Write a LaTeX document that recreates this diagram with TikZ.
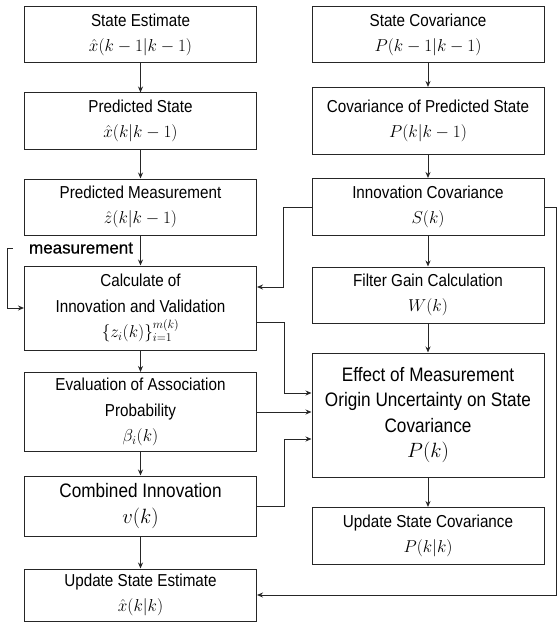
\documentclass[tikz,border=0pt]{standalone}
\usepackage{fontspec}
\setmainfont{Liberation Sans}[FakeStretch=0.88]
\newfontfamily\measfont{Liberation Sans}[FakeBold=0.5]
\usetikzlibrary{positioning,arrows.meta}

\begin{document}
\begin{tikzpicture}[x=1bp, y=1bp, node distance=86bp, line width=1bp, >={Stealth[length=6bp,width=5bp]},
    box/.style={rectangle, draw=black!85, minimum width=232bp, minimum height=56bp, align=center, font=\fontsize{17.3bp}{25.5bp}\selectfont},
    bigbox/.style={box, font=\fontsize{19.5bp}{25.5bp}\selectfont},
    wire/.style={->, draw=black!85}]
            \useasboundingbox (0,0) rectangle (560,-625);
            % --- Left Column ---
            \node[box] (StEst) at (140.5,-35) {State Estimate\\ $\hat{x}(k-1|k-1)$};
            \node[box] (PredSt) [below of = StEst] {Predicted State\\ $\hat{x}(k|k-1)$};
            \node[box] (PredMeas) [below of = PredSt] {Predicted Measurement\\ $\hat{z}(k|k-1)$};
            \node[box, minimum height=84bp] (Calc) [below of = PredMeas, yshift=-15bp] {Calculate of\\ Innovation and Validation\\ $\{z_i(k)\}_{i=1}^{m(k)}$};
            \node[box, minimum height=79bp] (Eval) [below of = Calc, yshift=-18bp] {Evaluation of Association\\ Probability\\ $\beta_i(k)$};
            \node[bigbox, minimum height=60bp] (Comb) [below of = Eval, yshift=-8bp] {Combined Innovation\\ $v(k)$};
            \node[box, minimum height=52bp] (UpdEst) [below of = Comb, yshift=-3bp] {Update State Estimate\\ $\hat{x}(k|k)$};

            % --- Right Column ---
            \node[box] (StCov) [right of = StEst, xshift=201.5bp] {State Covariance\\ $P(k-1|k-1)$};
            \node[box, minimum height=67bp] (PredCov) [below of = StCov] {Covariance of Predicted State\\ $P(k|k-1)$};
            \node[box, minimum height=57bp] (InnCov) [below of = PredCov] {Innovation Covariance\\ $S(k)$};
            \node[box] (Gain) [below of = InnCov, yshift=-2bp] {Filter Gain Calculation\\ $W(k)$};
            \node[bigbox, minimum height=124bp] (Effect) [below of = Gain, yshift=-34bp] {Effect of Measurement\\ Origin Uncertainty on State\\ Covariance\\ $P(k)$};
            \node[box, minimum height=57bp] (UpdCov) [below of = Effect, yshift=-35bp] {Update State Covariance\\ $P(k|k)$};

            % --- measurement input ---
            \node[font=\measfont\fontsize{17bp}{20bp}\selectfont, anchor=base east, inner sep=0pt] (measLbl) at ([xshift=-7bp, yshift=12bp]Calc.north) {measurement};
            \coordinate (measIn) at ([xshift=-11bp, yshift=17bp]Calc.north west);

            % --- Direct Straight Connections ---
            \draw[wire] (StEst) -- (PredSt);
            \draw[wire] (PredSt) -- (PredMeas);
            \draw[wire] (PredMeas) -- (Calc);
            \draw[wire] (Calc) -- (Eval);
            \draw[wire] (Eval) -- (Comb);
            \draw[wire] (Comb) -- (UpdEst);

            \draw[wire] (StCov) -- (PredCov);
            \draw[wire] (PredCov) -- (InnCov);
            \draw[wire] (InnCov) -- (Gain);
            \draw[wire] (Gain) -- (Effect);
            \draw[wire] (Effect) -- (UpdCov);

            % --- Elbow Connections ---
            \draw[wire] (measIn) -- ++(-5bp,0) |- (Calc.west);
            \draw[wire] (InnCov.west) -- ++(-28bp,0) |- ([yshift=21bp]Calc.east);
            \draw[wire] ([yshift=-14bp]Calc.east) -- ++(27bp,0) |- ([yshift=22bp]Effect.west);
            \draw[wire] (Eval.east) -- (Eval.east -| Effect.west);
            \draw[wire] (Comb.east) -- ++(27bp,0) |- ([yshift=-24bp]Effect.west);
            \draw[wire] (InnCov.east) -- ++(12bp,0) |- (UpdEst.east);
        \end{tikzpicture}
\end{document}
